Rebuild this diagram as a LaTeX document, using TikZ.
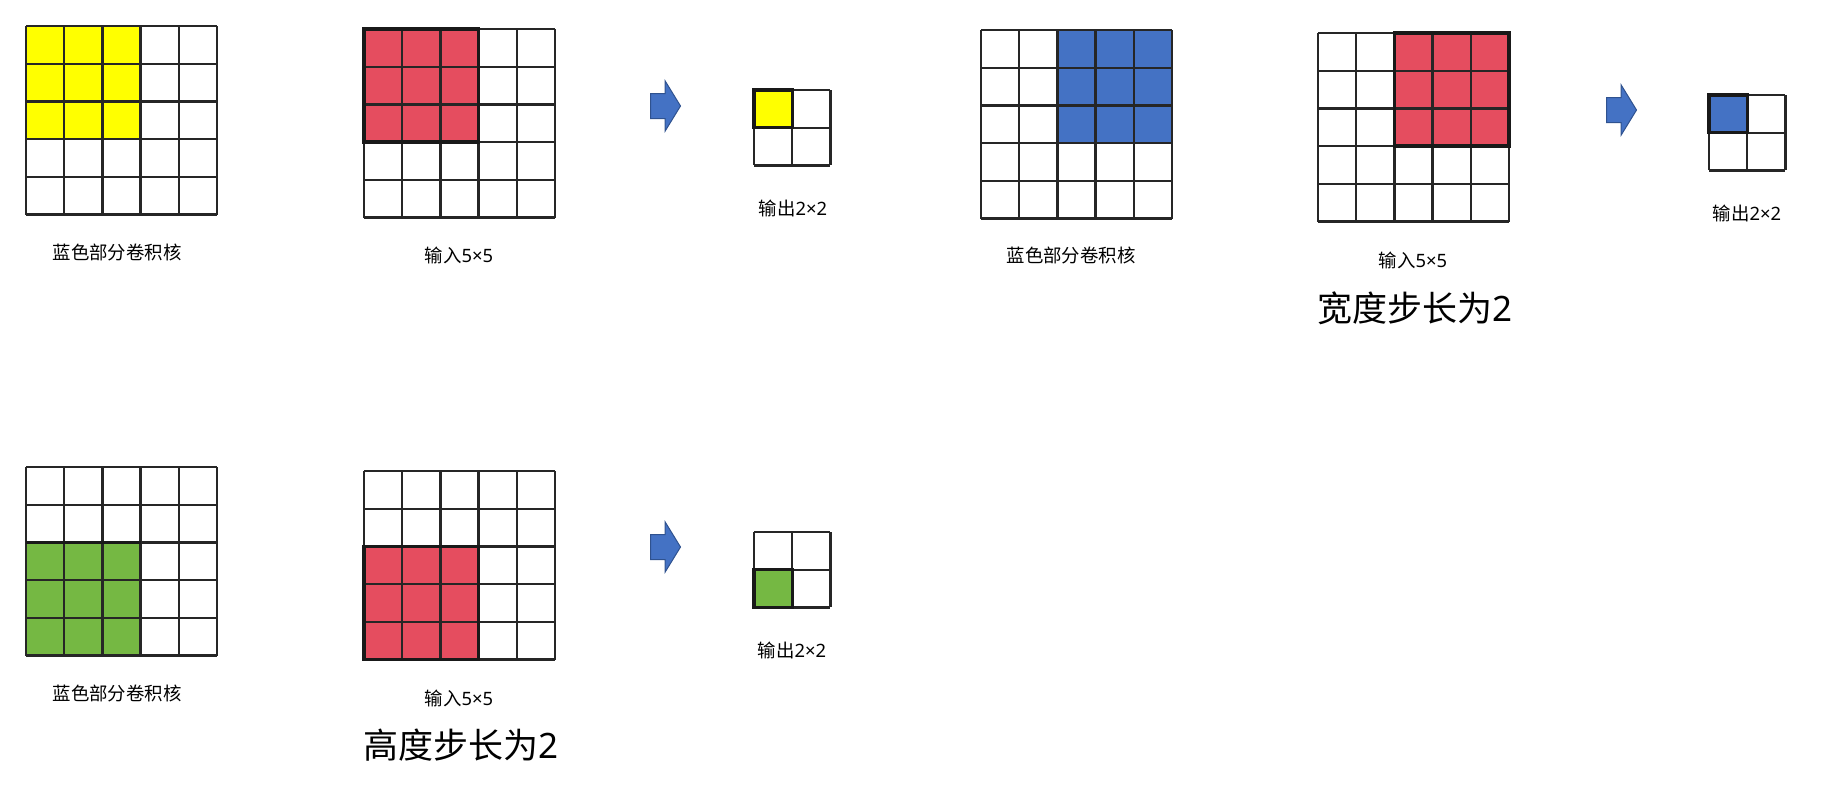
\documentclass[tikz,border=0pt]{standalone}
\usepackage{fontspec}
\setmainfont{Noto Sans CJK SC}
\newfontfamily\latnum{Noto Sans}
\usepackage{tikz}
\usetikzlibrary{shapes.arrows}
\usepackage{xcolor}
\definecolor{kernyellow}{HTML}{FFFF00}
\definecolor{kernred}{HTML}{E54D5F}
\definecolor{kernblue}{HTML}{4472C4}
\definecolor{kerngreen}{HTML}{75B843}
\definecolor{arrowedge}{HTML}{2F528F}

\begin{document}
\begin{tikzpicture}[
    x=0.5pt, y=-0.5pt,
    cellunit/.style={x=19.1pt, y=-18.85pt},
    gridline/.style={draw=black!85, line width=1.15pt},
    blockedge/.style={draw=black!90, line width=1.7pt},
    lbl/.style={font=\fontsize{9.2}{11}\selectfont, inner sep=0pt},
    caption/.style={font=\fontsize{17.5}{21}\selectfont, inner sep=0pt},
    blockarr/.style={single arrow, fill=kernblue, draw=arrowedge, line width=0.5pt,
                     minimum height=15pt, inner xsep=0pt, inner ysep=6pt,
                     single arrow head extend=6.25pt, single arrow tip angle=117,
                     anchor=tail},
    pics/cellgrid/.style={code={
      \foreach \k in {0,...,#1} {
        \draw[gridline] (\k,0) -- (\k,#1);
        \draw[gridline] (0,\k) -- (#1,\k);
      }
    }}
  ]
    \useasboundingbox (0,0) rectangle (1846,810);

    % width stride, first step
    \begin{scope}[shift={(26,26)}, cellunit]
      \fill[kernyellow] (0,0) rectangle (3,3);
      \pic {cellgrid=5};
    \end{scope}
    \node[lbl] (kA) at (117, 252) {蓝色部分卷积核};
    \begin{scope}[shift={(364,29)}, cellunit]
      \fill[kernred] (0,0) rectangle (3,3);
      \pic {cellgrid=5};
      \draw[blockedge] (0,0) rectangle (3,3);
    \end{scope}
    \node[lbl] (inA) at (459, 255) {输入{\latnum 5×5}};
    \node[blockarr] (arrA) at (650, 106) {};
    \begin{scope}[shift={(754,90)}, cellunit]
      \fill[kernyellow] (0,0) rectangle (1,1);
      \pic {cellgrid=2};
      \draw[blockedge] (0,0) rectangle (1,1);
    \end{scope}
    \node[lbl] (outA) at (793, 208) {输出{\latnum 2×2}};

    % width stride, second step
    \begin{scope}[shift={(981,30)}, cellunit]
      \fill[kernblue] (2,0) rectangle (5,3);
      \pic {cellgrid=5};
    \end{scope}
    \node[lbl] (kB) at (1071, 255) {蓝色部分卷积核};
    \begin{scope}[shift={(1318,33)}, cellunit]
      \fill[kernred] (2,0) rectangle (5,3);
      \pic {cellgrid=5};
      \draw[blockedge] (2,0) rectangle (5,3);
    \end{scope}
    \node[lbl] (inB) at (1413, 260) {输入{\latnum 5×5}};
    \node[caption] (wstride) at (1415, 308) {宽度步长为{\latnum 2}};
    \node[blockarr] (arrB) at (1606, 110) {};
    \begin{scope}[shift={(1709,95)}, cellunit]
      \fill[kernblue] (0,0) rectangle (1,1);
      \pic {cellgrid=2};
      \draw[blockedge] (0,0) rectangle (1,1);
    \end{scope}
    \node[lbl] (outB) at (1747, 213) {输出{\latnum 2×2}};

    % height stride
    \begin{scope}[shift={(26,467)}, cellunit]
      \fill[kerngreen] (0,2) rectangle (3,5);
      \pic {cellgrid=5};
      \draw[blockedge] (0,2) -- (3,2);
    \end{scope}
    \node[lbl] (kC) at (117, 693) {蓝色部分卷积核};
    \begin{scope}[shift={(364,471)}, cellunit]
      \fill[kernred] (0,2) rectangle (3,5);
      \pic {cellgrid=5};
      \draw[blockedge] (0,2) rectangle (3,5);
    \end{scope}
    \node[lbl] (inC) at (459, 698) {输入{\latnum 5×5}};
    \node[caption] (hstride) at (461, 745) {高度步长为{\latnum 2}};
    \node[blockarr] (arrC) at (650, 547) {};
    \begin{scope}[shift={(754,532)}, cellunit]
      \fill[kerngreen] (0,1) rectangle (1,2);
      \pic {cellgrid=2};
      \draw[blockedge] (0,1) rectangle (1,2);
    \end{scope}
    \node[lbl] (outC) at (792, 650) {输出{\latnum 2×2}};
  \end{tikzpicture}
\end{document}
